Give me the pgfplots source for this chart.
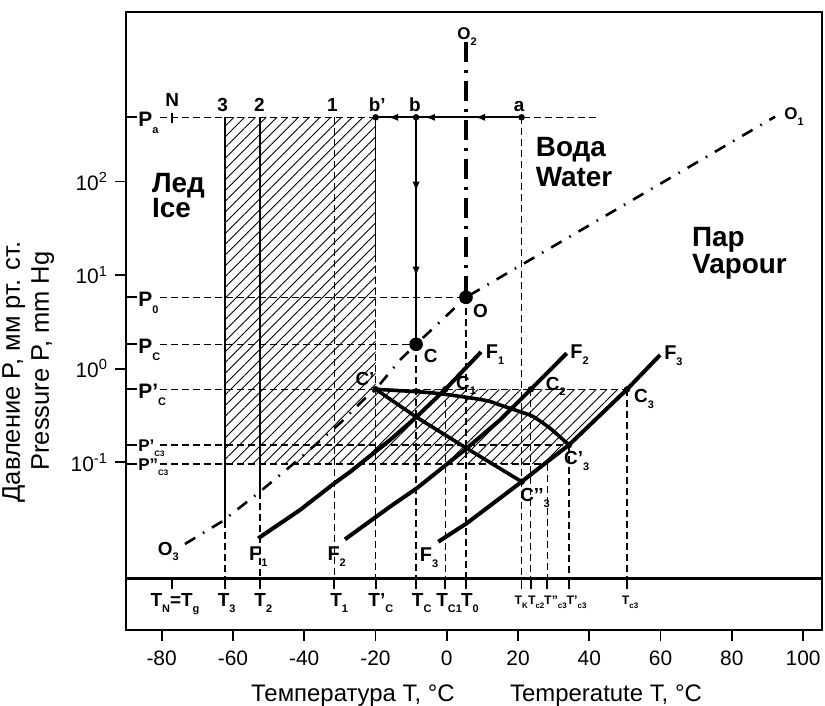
\documentclass[border=0pt]{standalone}
\usepackage{fontspec}
\setmainfont{Liberation Sans}
\usepackage{pgfplots}
\pgfplotsset{compat=1.18}
\usetikzlibrary{patterns.meta,arrows.meta,calc}

\newcommand{\sbx}[1]{\raisebox{-0.3em}{\fontsize{5.5}{6}\selectfont #1}}
\newcommand{\sbs}[1]{\raisebox{-0.3em}{\fontsize{4}{5}\selectfont #1}}

\tikzset{
  dsh/.style={line width=0.6bp, dash pattern=on 3.5bp off 2bp},
  thn/.style={line width=0.7bp},
  fcurve/.style={line width=2bp},
  ccurve/.style={line width=1.8bp},
  ddot/.style={line width=1.3bp, dash pattern=on 6bp off 4.5bp on 0.8bp off 4.5bp},
  arr/.style={line width=0.9bp, -{Latex[length=5bp,width=3.6bp]}},
  lbl/.style={font=\fontsize{9.5}{10}\selectfont\bfseries, inner sep=0pt, anchor=base, yshift=-3.4bp},
  flbl/.style={font=\fontsize{10}{11}\selectfont\bfseries, inner sep=0pt, anchor=base, yshift=-3.6bp},
  olbl/.style={font=\fontsize{8.5}{9}\selectfont\bfseries, inner sep=0pt, anchor=base, yshift=-3bp},
  plbl/.style={font=\fontsize{10.5}{11}\selectfont\bfseries, inner sep=0pt, anchor=base west, yshift=-4.8bp},
  pslbl/.style={font=\fontsize{8.5}{9}\selectfont\bfseries, inner sep=0pt, anchor=base west, yshift=-3.3bp},
  tsml/.style={font=\fontsize{6.2}{7}\selectfont\bfseries, inner sep=0pt, anchor=base, yshift=-2.3bp},
  big/.style={font=\fontsize{14}{15}\selectfont\bfseries, inner sep=0pt, anchor=base west},
  axlbl/.style={font=\fontsize{12}{13}\selectfont, anchor=base, inner sep=0pt},
  aylbl/.style={font=\fontsize{12.8}{13}\selectfont, anchor=base, inner sep=0pt, rotate=90},
}

\begin{document}
\begin{tikzpicture}
\begin{axis}[
  scale only axis, width=348bp, height=308.85bp,
  xmin=-90, xmax=105.3,
  ymode=log, ymin=0.001614, ymax=6412,
  clip=false,
  axis line style={line width=1.2bp},
  tick align=outside, xtick pos=bottom, ytick pos=left,
  major tick length=5.5bp,
  tick style={line width=0.9bp, color=black},
  xtick={-80,-60,-40,-20,0,20,40,60,80,100},
  xticklabels={-80,-60,-40,-20,0,20,40,60,80,100},
  ytick={0.1,1,10,100},
  yticklabels={10\textsuperscript{-1},10\textsuperscript{0},10\textsuperscript{1},10\textsuperscript{2}},
  yminorticks=false,
  ticklabel style={font=\fontsize{10.5}{12}\selectfont},
  xticklabel style={yshift=-1.5bp},
]
\coordinate (sw) at (rel axis cs:0,0);
\coordinate (ne) at (rel axis cs:1,1);

% hatched region
\addplot[draw=none, pattern={Lines[angle=45,distance=3.8bp,line width=0.45bp]}]
  coordinates {(-62.23,484.2) (-19.94,484.2) (-19.94,0.6017) (50.6,0.6017)
               (34.3,0.1529) (27.36,0.09578) (-62.23,0.09578)};

% separator of the temperature strip
\addplot[line width=1.2bp] coordinates {(-90,0.005728) (105.3,0.005728)};

% horizontal pressure levels
\addplot[dsh] coordinates {(-80.48,484.2) (42.1,484.2)};
\addplot[dsh] coordinates {(-80.48,5.781) (5.4,5.781)};
\addplot[dsh] coordinates {(-80.48,1.82) (-8.6,1.82)};
\addplot[dsh] coordinates {(-80.48,0.6017) (50.6,0.6017)};
\addplot[dsh] coordinates {(-80.48,0.1529) (34.3,0.1529)};
\addplot[dsh] coordinates {(-80.48,0.09578) (28.23,0.09578)};

% vertical lines
\addplot[thn] coordinates {(-62.23,484.2) (-62.23,0.0235)};
\addplot[dsh] coordinates {(-62.23,0.0235) (-62.23,0.005728)};
\addplot[thn] coordinates {(-52.41,484.2) (-52.41,0.04846)};
\addplot[dsh] coordinates {(-52.41,0.04846) (-52.41,0.005728)};
\addplot[dsh] coordinates {(-31.56,484.2) (-31.56,0.005728)};
\addplot[thn] coordinates {(-19.94,484.2) (-19.94,16.37)};
\addplot[dsh] coordinates {(-19.94,16.37) (-19.94,0.005728)};
\addplot[dsh] coordinates {(-8.6,1.82) (-8.6,0.005728)};
\addplot[dsh] coordinates {(-0.4,0.6017) (-0.4,0.005728)};
\addplot[dsh] coordinates {(5.4,5.781) (5.4,0.005728)};
\addplot[dsh] coordinates {(21,484.2) (21,0.005728)};
\addplot[dsh] coordinates {(23.6,0.6017) (23.6,0.005728)};
\addplot[dsh] coordinates {(28.23,0.09578) (28.23,0.005728)};
\addplot[dsh] coordinates {(34.3,0.1529) (34.3,0.005728)};
\addplot[dsh] coordinates {(50.6,0.6017) (50.6,0.005728)};

% ticks on the levels and on the temperature strip
\pgfplotsinvokeforeach{484.2,5.781,1.82,0.6017,0.1529,0.09578}{
  \addplot[line width=0.9bp] coordinates {(-90,#1) (-86.93,#1)};
}
\addplot[line width=0.9bp] coordinates {(-77.02,542.6) (-77.02,418)};
\pgfplotsinvokeforeach{-77.02,-62.23,-52.41,-31.56,-19.94,-8.6,-0.4,5.4,21,23.6,28.23,34.3,50.6}{
  \addplot[line width=0.9bp] coordinates {(#1,0.005728) (#1,0.004479)};
}

% melting line O-O2
\addplot[line width=2bp, dash pattern=on 10bp off 4bp on 1.5bp off 4bp]
  coordinates {(5.4,3112) (5.4,5.781)};
% sublimation and vaporisation line O3-O-O1
\addplot[ddot] coordinates {(-73.46,0.01338) (-63.16,0.02316) (-52.41,0.04846)
  (-41.18,0.1102) (-29.48,0.2712) (-23.42,0.4624) (-19.94,0.6017) (-13.11,1.237)
  (-8.6,1.82) (5.4,5.781) (92.14,492.0)};

% process lines
\addplot[line width=0.9bp] coordinates {(21,484.2) (-19.94,484.2)};
\addplot[arr] coordinates {(12,484.2) (7.94,484.2)};
\addplot[arr] coordinates {(-2,484.2) (-6.1,484.2)};
\addplot[arr] coordinates {(-13,484.2) (-16.48,484.2)};
\addplot[line width=0.9bp] coordinates {(-8.6,484.2) (-8.6,1.82)};
\addplot[arr] coordinates {(-8.6,110) (-8.6,77.7)};
\addplot[arr] coordinates {(-8.6,12) (-8.6,9.6)};

% F curves
\addplot[fcurve] coordinates {(-52.89,0.0154) (-41.18,0.03089) (-31.56,0.05957)
  (-27.15,0.07867) (-15.92,0.1729) (-8.43,0.3066) (-0.4,0.6017) (9.62,1.506)};
\addplot[fcurve] coordinates {(-28.55,0.01502) (-15.92,0.0335) (-8.43,0.05267)
  (5.61,0.1409) (14.95,0.2827) (23.6,0.6017) (33.68,1.459)};
\addplot[fcurve] coordinates {(-2.36,0.01416) (5.61,0.02227) (21.04,0.06196)
  (27.36,0.09578) (34.3,0.1529) (50.6,0.6017) (59.86,1.399)};

% C' curves
\addplot[ccurve, smooth] coordinates {(-19.94,0.6017) (-3.77,0.5494) (10.27,0.4624)
  (14.95,0.4089) (20.57,0.3467) (24.3,0.3066) (28.99,0.2306) (34.3,0.1529)};
\addplot[ccurve] coordinates {(-19.94,0.6017) (-8.43,0.3021) (5.61,0.1409) (21.04,0.06196)};

% points
\addplot[only marks, mark=*, mark size=3.2bp] coordinates {(-8.6,1.82) (5.4,5.781)};
\addplot[only marks, mark=*, mark size=1.4bp] coordinates {(-19.94,484.2) (-8.6,484.2) (21,484.2)
  (-19.94,0.6017) (-0.4,0.6017) (23.6,0.6017) (50.6,0.6017) (34.3,0.1529) (21.04,0.06196)};

% labels
\node[lbl] at (axis cs:-77.02,741.6) {N};
\node[lbl] at (axis cs:-62.88,652.6) {3};
\node[lbl] at (axis cs:-52.6,652.6) {2};
\node[lbl] at (axis cs:-32.1,652.6) {1};
\node[lbl] at (axis cs:-19.5,652.6) {b'};
\node[lbl] at (axis cs:-8.9,652.6) {b};
\node[lbl] at (axis cs:20.29,652.6) {a};
\node[olbl] at (axis cs:5.69,3761) {O\sbx{2}};
\node[olbl] at (axis cs:97.47,525.6) {O\sbx{1}};
\node[lbl] at (axis cs:9.48,4.13) {O};
\node[lbl] at (axis cs:-78.15,0.01204) {O\sbx{3}};
\node[lbl] at (axis cs:-4.47,1.372) {C};
\node[lbl] at (axis cs:-22.94,0.775) {C'};
\node[lbl] at (axis cs:5.41,0.711) {C\sbx{1}};
\node[lbl] at (axis cs:30.61,0.6975) {C\sbx{2}};
\node[lbl] at (axis cs:55.37,0.5104) {C\sbx{3}};
\node[lbl] at (axis cs:36.48,0.111) {C'\sbx{3}};
\node[lbl] at (axis cs:24.78,0.04467) {C'{}'\sbx{3}};
\node[flbl] at (axis cs:13.55,1.517) {F\sbx{1}};
\node[flbl] at (axis cs:37.27,1.517) {F\sbx{2}};
\node[flbl] at (axis cs:63.6,1.494) {F\sbx{3}};
\node[flbl] at (axis cs:-52.89,0.01064) {F\sbx{1}};
\node[flbl] at (axis cs:-30.88,0.01064) {F\sbx{2}};
\node[flbl] at (axis cs:-4.97,0.01046) {F\sbx{3}};

\node[plbl] at (axis cs:-86.65,484.2) {P\sbx{a}};
\node[plbl] at (axis cs:-86.65,5.781) {P\sbx{0}};
\node[plbl] at (axis cs:-86.65,1.82) {P\sbx{C}};
\node[plbl] at (axis cs:-86.65,0.6017) {P'\sbx{C}};
\node[pslbl] at (axis cs:-86.65,0.1529) {P'\sbs{C3}};
\node[pslbl] at (axis cs:-86.65,0.09578) {P''\sbs{C3}};

\node[lbl] at (axis cs:-76.27,0.003375) {T\sbx{N}=T\sbx{g}};
\node[lbl] at (axis cs:-61.76,0.003375) {T\sbx{3}};
\node[lbl] at (axis cs:-51.48,0.003375) {T\sbx{2}};
\node[lbl] at (axis cs:-30.18,0.003375) {T\sbx{1}};
\node[lbl] at (axis cs:-18.5,0.003375) {T'\sbx{C}};
\node[lbl] at (axis cs:-7.02,0.003375) {T\sbx{C}};
\node[lbl] at (axis cs:0.69,0.003375) {T\sbx{C1}};
\node[lbl] at (axis cs:6.53,0.003375) {T\sbx{0}};
\node[tsml] at (axis cs:20.9,0.003375) {T\sbs{K}};
\node[tsml] at (axis cs:25.11,0.003375) {T\sbs{c2}};
\node[tsml] at (axis cs:30.53,0.003375) {T''\sbs{c3}};
\node[tsml] at (axis cs:36.42,0.003375) {T'\sbs{c3}};
\node[tsml] at (axis cs:51.44,0.003375) {T\sbs{c3}};

\node[big] at (axis cs:-82.81,77) {Лед};
\node[big] at (axis cs:-82.81,41) {Ice};
\node[big] at (axis cs:24.9,183.8) {Вода};
\node[big] at (axis cs:24.9,87.9) {Water};
\node[big] at (axis cs:68.76,20.09) {Пар};
\node[big] at (axis cs:68.76,10.41) {Vapour};

\node[axlbl] at ([yshift=-35.85bp]rel axis cs:0.3261,0) {Температура T, °C};
\node[axlbl] at ([yshift=-35.85bp]rel axis cs:0.6897,0) {Temperatute T, °C};
\node[aylbl] at ([xshift=-53bp]rel axis cs:0,0.4177) {Давление P, мм рт. ст.};
\node[aylbl] at ([xshift=-38.5bp]rel axis cs:0,0.4355) {Pressure P, mm Hg};
\end{axis}
\pgfresetboundingbox
\path ($(sw)+(-63bp,-38bp)$) rectangle ($(ne)+(1.5bp,6.15bp)$);
\end{tikzpicture}
\end{document}
